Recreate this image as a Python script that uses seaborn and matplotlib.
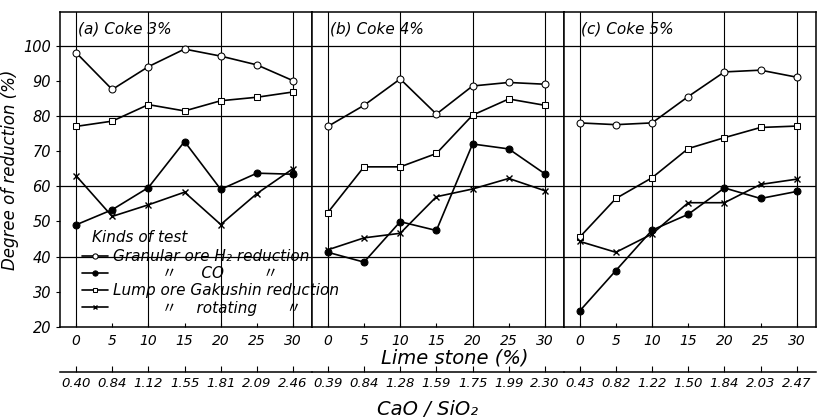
import matplotlib
matplotlib.use("Agg")
import matplotlib.pyplot as plt
import seaborn as sns
import pandas as pd

# Limestone addition (%) - same for all three coke levels
limestone = [0, 5, 10, 15, 20, 25, 30]

panel_titles = ["(a) Coke 3%", "(b) Coke 4%", "(c) Coke 5%"]

# CaO/SiO2 ratio under each limestone point
basicity = [
    ["0.40", "0.84", "1.12", "1.55", "1.81", "2.09", "2.46"],
    ["0.39", "0.84", "1.28", "1.59", "1.75", "1.99", "2.30"],
    ["0.43", "0.82", "1.22", "1.50", "1.84", "2.03", "2.47"],
]

# Degree of reduction (%), one list per panel
granular_h2 = [
    [98, 87.5, 94, 99, 97, 94.5, 90],
    [77, 83, 90.5, 80.5, 88.5, 89.5, 89],
    [78, 77.5, 78, 85.5, 92.5, 93, 91],
]
granular_co = [
    [49, 53.3, 59.6, 72.7, 59.1, 63.7, 63.4],
    [41.2, 38.4, 49.9, 47.4, 72, 70.6, 63.5],
    [24.5, 36, 47.5, 52, 59.5, 56.5, 58.5],
]
lump_gakushin = [
    [77, 78.5, 83.2, 81.4, 84.3, 85.3, 86.8],
    [52.5, 65.5, 65.5, 69.3, 80.2, 84.8, 83],
    [45.5, 56.5, 62.4, 70.7, 73.8, 76.7, 77.1],
]
lump_rotating = [
    [63, 51.4, 54.7, 58.3, 49.1, 57.9, 65],
    [41.9, 45.3, 46.6, 57, 59.2, 62.2, 58.7],
    [44.3, 41.2, 46.4, 55.3, 55.3, 60.5, 62],
]

legend_labels = [
    "Granular ore H\u2082 reduction",
    "          \u3003     CO        \u3003",
    "Lump ore Gakushin reduction",
    "          \u3003    rotating      \u3003",
]

sns.set_style("ticks")
plt.rcParams['font.family'] = ['DejaVu Sans', 'Noto Sans CJK JP']
plt.rcParams['font.style'] = 'italic'
plt.rcParams['axes.edgecolor'] = 'black'
plt.rcParams['xtick.color'] = 'black'
plt.rcParams['ytick.color'] = 'black'
plt.rcParams['text.color'] = 'black'
plt.rcParams['axes.labelcolor'] = 'black'

styles = [
    dict(marker='o', markersize=5, markerfacecolor='white'),
    dict(marker='o', markersize=5, markerfacecolor='black'),
    dict(marker='s', markersize=4.5, markerfacecolor='white'),
    dict(marker='x', markersize=4, markeredgewidth=1),
]

fig, axes = plt.subplots(1, 3, figsize=(8.23, 4.19), dpi=100, sharey=True)
fig.subplots_adjust(left=0.073, right=0.991, top=0.971, bottom=0.22, wspace=0)

for i, ax in enumerate(axes):
    series = [granular_h2[i], granular_co[i], lump_gakushin[i], lump_rotating[i]]
    for vals, st, lab in zip(series, styles, legend_labels):
        df = pd.DataFrame({'limestone': limestone, 'reduction': vals})
        sns.lineplot(data=df, x='limestone', y='reduction', ax=ax, color='black',
                     linewidth=1.2, markeredgecolor='black', label=lab, legend=False,
                     **st)

    for y in [40, 60, 80, 100]:
        ax.axhline(y, color='black', linewidth=0.9, zorder=0)
    for x in [0, 10, 20, 30]:
        ax.axvline(x, color='black', linewidth=0.8, zorder=0)

    ax.set_xlim(-2.2, 32.6)
    ax.set_ylim(20, 109.5)
    ax.set_xticks(limestone)
    ax.tick_params(axis='x', direction='in', length=3, labelsize=10, pad=5)
    ax.set_xlabel("")
    ax.set_ylabel("")
    for s in ax.spines.values():
        s.set_linewidth(1.1)
        s.set_visible(True)

    ax.text(0.07, 0.947, panel_titles[i], transform=ax.transAxes,
            fontsize=11, va='center', ha='left')

    sec = ax.secondary_xaxis(-0.143)
    sec.set_xticks(limestone, labels=basicity[i])
    sec.tick_params(direction='in', length=4, labelsize=9.5, pad=4)
    sec.spines['bottom'].set_linewidth(1.1)

    if i > 0:
        ax.tick_params(axis='y', length=0)

axes[0].set_yticks(range(20, 101, 10))
axes[0].tick_params(axis='y', direction='out', length=3, labelsize=10.5)
axes[0].set_ylabel("Degree of reduction (%)", fontsize=12, labelpad=3)

handles, labels = axes[0].get_legend_handles_labels()
fig.legend(handles, labels, loc='upper left', bbox_to_anchor=(0.0996, 0.406),
           bbox_transform=fig.transFigure, frameon=False, fontsize=11,
           borderpad=0, borderaxespad=0, handlelength=1.7, handletextpad=0.35,
           labelspacing=0.15, markerscale=0.75)
fig.text(92 / 823, 1 - 237 / 419, "Kinds of test", fontsize=11, va='center', ha='left')

fig.text(455 / 823, 1 - 358 / 419, "Lime stone (%)", fontsize=14, ha='center', va='center')
fig.text(428 / 823, 1 - 409 / 419, "CaO / SiO\u2082", fontsize=14, ha='center', va='center')

plt.savefig("out.png", dpi=100)
plt.close()
